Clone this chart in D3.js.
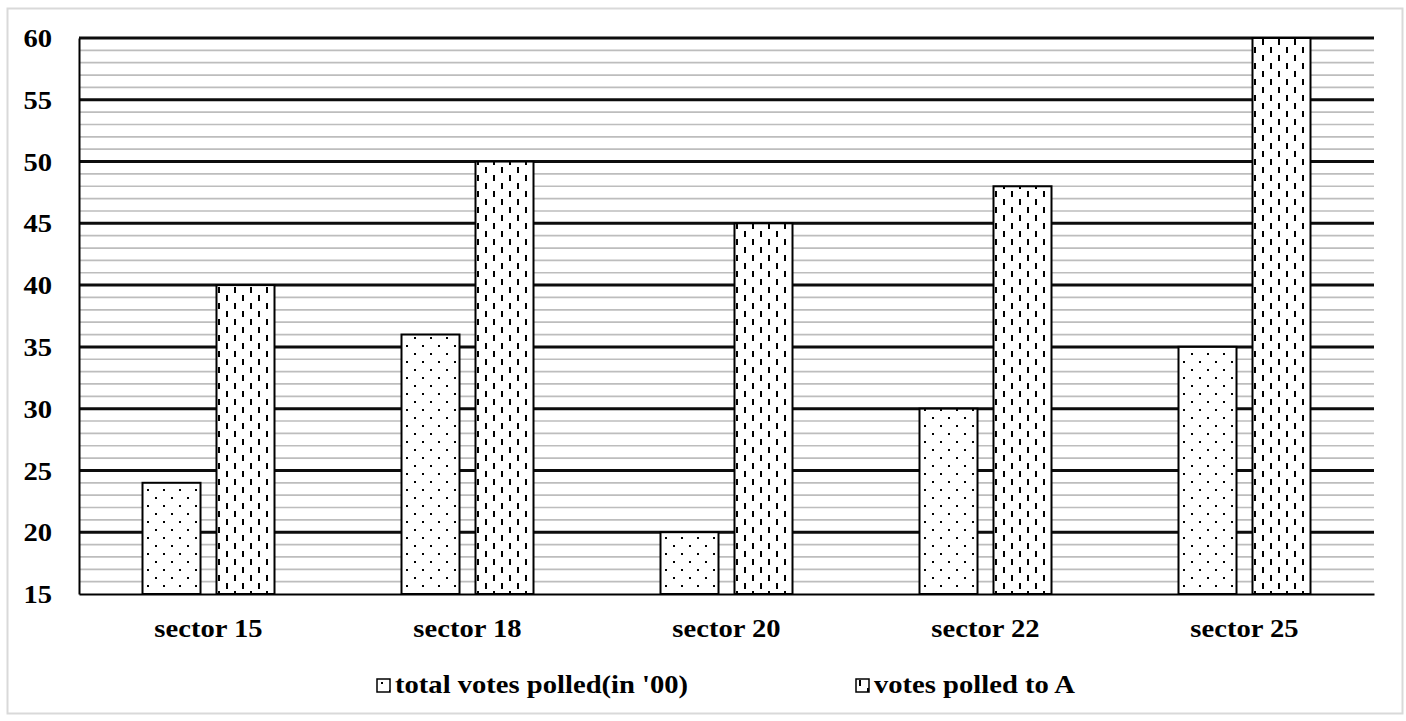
<!DOCTYPE html>
<html>
<head>
<meta charset="utf-8">
<script src="https://cdn.jsdelivr.net/npm/d3@7"></script>
<style>
  body { margin: 0; background: #fff; }
  text { font-family: "Liberation Serif", "Times New Roman", serif; font-weight: bold; fill: #000; }
</style>
</head>
<body>
<div id="chart"></div>
<script>
// data
var sectors = ["sector 15", "sector 18", "sector 20", "sector 22", "sector 25"];
var totalVotes = [24, 36, 20, 30, 35];
var votesA = [40, 50, 45, 48, 60];
var seriesNames = ["total votes polled(in '00)", "votes polled to A"];
var yTicks = [15, 20, 25, 30, 35, 40, 45, 50, 55, 60];

var svgWidth = 1406, svgHeight = 721;
var margin = {top: 38, right: 32, bottom: 127, left: 79},
    width = svgWidth - margin.left - margin.right,
    height = svgHeight - margin.top - margin.bottom;

var stretch = 1.1; // make the serif look as wide as the original font

var svg = d3.select("#chart")
  .append("svg")
  .attr("width", svgWidth)
  .attr("height", svgHeight);

// patterns
var defs = svg.append("defs");
var dots = defs.append("pattern")
  .attr("id", "dots")
  .attr("patternUnits", "userSpaceOnUse")
  .attr("width", 16).attr("height", 16);
dots.append("rect").attr("width", 16).attr("height", 16).attr("fill", "#fff");
dots.append("rect").attr("x", 4).attr("y", 3).attr("width", 2).attr("height", 2).attr("fill", "#000");
dots.append("rect").attr("x", 12).attr("y", 11).attr("width", 2).attr("height", 2).attr("fill", "#000");

var dashes = defs.append("pattern")
  .attr("id", "dashes")
  .attr("patternUnits", "userSpaceOnUse")
  .attr("width", 16).attr("height", 16);
dashes.append("rect").attr("width", 16).attr("height", 16).attr("fill", "#fff");
dashes.append("rect").attr("x", 3).attr("y", 1).attr("width", 2).attr("height", 6).attr("fill", "#000");
dashes.append("rect").attr("x", 11).attr("y", 9).attr("width", 2).attr("height", 6).attr("fill", "#000");

var fills = ["url(#dots)", "url(#dashes)"];

// outer frame
svg.append("rect")
  .attr("x", 7.5).attr("y", 8.5)
  .attr("width", 1395).attr("height", 705)
  .attr("fill", "none")
  .attr("stroke", "#d9d9d9")
  .attr("stroke-width", 2);

var g = svg.append("g")
  .attr("transform", "translate(" + margin.left + "," + margin.top + ")");

var y = d3.scaleLinear().domain([15, 60]).range([height, 0]);
var x0 = d3.scaleBand().domain(sectors).range([0, width]).padding(0);
var x1 = d3.scaleBand().domain(seriesNames)
  .range([x0.bandwidth() / 2 - 66, x0.bandwidth() / 2 + 66])
  .paddingInner(0.216);

// minor gridlines every 1
g.append("g").selectAll("line")
  .data(d3.range(16, 60).filter(function(v){ return v % 5 != 0; }))
  .enter().append("line")
  .attr("x1", 0).attr("x2", width)
  .attr("y1", function(d){ return y(d); })
  .attr("y2", function(d){ return y(d); })
  .attr("stroke", "#bdbdbd")
  .attr("stroke-width", 1.7);

// major gridlines
g.append("g").selectAll("line")
  .data(yTicks.filter(function(v){ return v > 15; }))
  .enter().append("line")
  .attr("x1", 0).attr("x2", width)
  .attr("y1", function(d){ return y(d); })
  .attr("y2", function(d){ return y(d); })
  .attr("stroke", "#0d0d0d")
  .attr("stroke-width", 3);

// y axis
var yAxis = g.append("g")
  .call(d3.axisLeft(y).tickValues(yTicks).tickSize(0).tickPadding(27));
yAxis.select(".domain").attr("stroke", "#000").attr("stroke-width", 2);
yAxis.selectAll("text")
  .style("font-size", "26px")
  .attr("dy", "0.33em");

// bars
var table = sectors.map(function(s, i){
  return {sector: s, values: [
    {name: seriesNames[0], value: totalVotes[i], k: 0},
    {name: seriesNames[1], value: votesA[i], k: 1}
  ]};
});

g.append("g").selectAll("g")
  .data(table)
  .enter().append("g")
  .attr("transform", function(d){ return "translate(" + x0(d.sector) + ",0)"; })
  .selectAll("rect")
  .data(function(d){ return d.values; })
  .enter().append("rect")
  .attr("x", function(d){ return x1(d.name); })
  .attr("y", function(d){ return y(d.value); })
  .attr("width", x1.bandwidth())
  .attr("height", function(d){ return y(15) - y(d.value); })
  .attr("fill", function(d){ return fills[d.k]; })
  .attr("stroke", "#000")
  .attr("stroke-width", 2);

// x axis
var xAxis = g.append("g")
  .attr("transform", "translate(0," + height + ")")
  .call(d3.axisBottom(x0).tickSize(0).tickPadding(25));
xAxis.select(".domain").attr("stroke", "#000").attr("stroke-width", 2);
xAxis.selectAll("text").style("font-size", "26px");

// legend
var legendX = [377, 856];
var legend = svg.append("g").selectAll("g")
  .data(seriesNames)
  .enter().append("g")
  .attr("transform", function(d, i){ return "translate(" + legendX[i] + ",679)"; });
legend.append("rect")
  .attr("width", 13).attr("height", 13)
  .attr("fill", function(d, i){ return fills[i]; })
  .attr("stroke", "#000")
  .attr("stroke-width", 1.5);
legend.append("text")
  .attr("x", 18).attr("y", 14)
  .style("font-size", "26px")
  .text(function(d){ return d; });

// widen all text a little
svg.selectAll("text").each(function(){
  var w = this.getComputedTextLength();
  d3.select(this)
    .attr("textLength", w * stretch)
    .attr("lengthAdjust", "spacingAndGlyphs");
});
</script>
</body>
</html>
